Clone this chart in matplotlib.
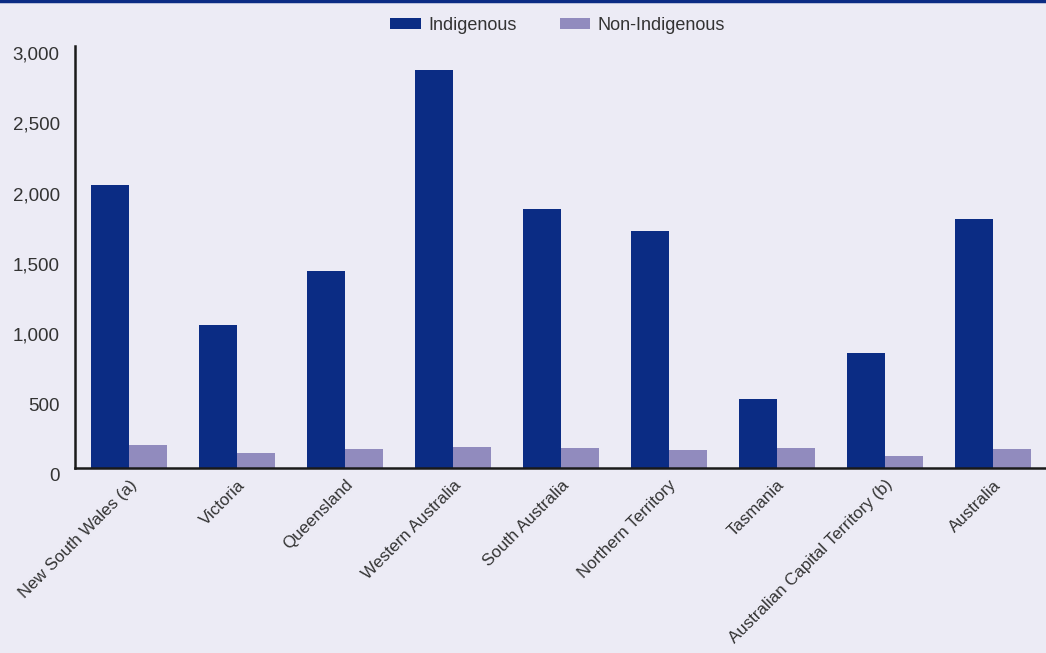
import numpy as np
import matplotlib.pyplot as plt
import matplotlib.transforms as mtransforms
from matplotlib.lines import Line2D

states = ['New South Wales (a)', 'Victoria', 'Queensland', 'Western Australia',
          'South Australia', 'Northern Territory', 'Tasmania',
          'Australian Capital Territory (b)', 'Australia']
indigenous = [2010, 1015, 1400, 2830, 1840, 1685, 490, 815, 1770]
non_indigenous = [160, 105, 132, 146, 139, 125, 139, 82, 132]

bg = '#ECEBF5'
navy = '#0B2C84'
lilac = '#918BBE'
txt = '#333333'

plt.rcParams['font.family'] = ['Liberation Sans', 'DejaVu Sans']

fig = plt.figure(figsize=(10.46, 6.53), dpi=100, facecolor=bg)
ax = fig.add_axes([0.0717, 0.284, 0.929, 0.6455], facecolor=bg)

x = np.arange(len(states))
w = 0.352
ax.bar(x - w / 2, indigenous, w, color=navy, label='Indigenous')
ax.bar(x + w / 2, non_indigenous, w, color=lilac, label='Non-Indigenous')

ax.set_xlim(-0.5, len(states) - 0.5)
ax.set_ylim(0, 3000)
ax.set_yticks(range(0, 3001, 500))
ax.set_yticklabels([f'{v:,}' for v in range(0, 3001, 500)], fontsize=13.5, color=txt)
ax.tick_params(axis='y', length=0, pad=11)
ax.set_xticks(x)
ax.set_xticklabels(states, rotation=45, ha='right', rotation_mode='anchor',
                   fontsize=12.2, color=txt)
ax.tick_params(axis='x', length=0, pad=7)

for s in ['top', 'right']:
    ax.spines[s].set_visible(False)
for s in ['left', 'bottom']:
    ax.spines[s].set_color('#1a1a1a')
    ax.spines[s].set_linewidth(1.8)

# y labels sit a little below their gridline value in the original
offset = mtransforms.ScaledTranslation(0, -7 / 100, fig.dpi_scale_trans)
for lbl in ax.get_yticklabels():
    lbl.set_transform(lbl.get_transform() + offset)

fig.legend(loc='center', bbox_to_anchor=(0.533, 0.961), ncol=2, frameon=False,
           fontsize=13, handlelength=1.7, handleheight=0.6, handletextpad=0.4,
           columnspacing=2.4, labelcolor=txt)

fig.add_artist(Line2D([0, 1], [0.998, 0.998], color=navy, lw=2.5,
                      transform=fig.transFigure))

fig.savefig('out.png', dpi=100, facecolor=bg)
